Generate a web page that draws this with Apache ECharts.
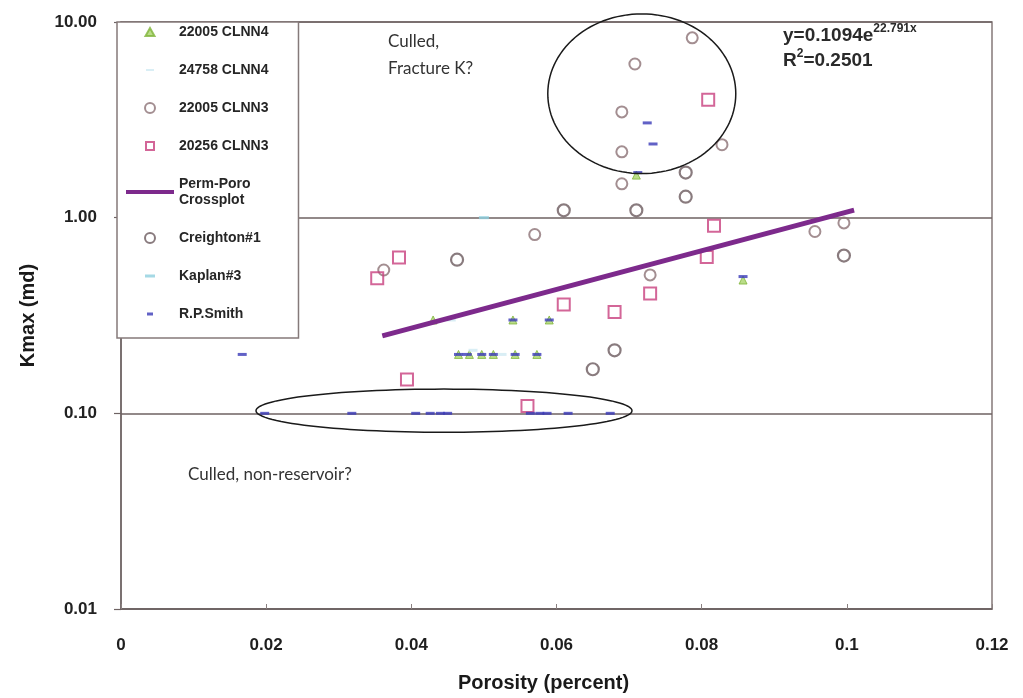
<!DOCTYPE html>
<html>
<head>
<meta charset="utf-8">
<script src="https://cdn.jsdelivr.net/npm/echarts@6/dist/echarts.min.js"></script>
<style>
  html, body { margin: 0; padding: 0; background: #ffffff; }
  #chart { width: 1023px; height: 698px; }
</style>
</head>
<body>
<div id="chart"></div>
<script>
// Porosity (fraction) vs. Kmax (md) for several wells
const xTicks = [0, 0.02, 0.04, 0.06, 0.08, 0.1, 0.12];
const yTickLabels = { 0.01: '0.01', 0.1: '0.10', 1: '1.00', 10: '10.00' };

const clnn4_22005 = [
  [0.043, 0.3], [0.054, 0.3], [0.059, 0.3],
  [0.0465, 0.2], [0.048, 0.2], [0.0497, 0.2], [0.0513, 0.2], [0.0543, 0.2], [0.0573, 0.2],
  [0.071, 1.65], [0.0857, 0.48]
];
const clnn4_24758 = [
  [0.0455, 0.3], [0.0525, 0.2], [0.0485, 0.21]
];
const clnn3_22005 = [
  [0.0787, 8.3], [0.0708, 6.1], [0.069, 3.47], [0.069, 2.17], [0.0828, 2.36],
  [0.069, 1.49], [0.057, 0.82], [0.0362, 0.54], [0.0729, 0.51], [0.0956, 0.85], [0.0996, 0.94]
];
const clnn3_20256 = [
  [0.0809, 4.0], [0.0817, 0.91], [0.0807, 0.63], [0.0729, 0.41], [0.068, 0.33],
  [0.061, 0.36], [0.0353, 0.49], [0.0383, 0.625], [0.0394, 0.149], [0.056, 0.109]
];
// exponential fit y = 0.1094 e^(22.791x), straight on the log axis
const permPoroFit = [[0.036, 0.249], [0.101, 1.093]];
const creighton1 = [
  [0.0463, 0.61], [0.061, 1.09], [0.068, 0.21], [0.071, 1.09], [0.0778, 1.7],
  [0.0778, 1.28], [0.0996, 0.64], [0.065, 0.168]
];
const kaplan3 = [[0.05, 1.0]];
const rpSmith = [
  [0.0198, 0.1], [0.0318, 0.1], [0.0406, 0.1], [0.0426, 0.1], [0.044, 0.1], [0.045, 0.1],
  [0.0564, 0.1], [0.0577, 0.1], [0.0587, 0.1], [0.0616, 0.1], [0.0674, 0.1],
  [0.0167, 0.2], [0.0465, 0.2], [0.0477, 0.2], [0.0497, 0.2], [0.0513, 0.2], [0.0543, 0.2], [0.0573, 0.2],
  [0.054, 0.3], [0.059, 0.3],
  [0.0725, 3.05], [0.0733, 2.38], [0.0712, 1.7], [0.0857, 0.5]
];

// Culled groups outlined on the plot (data-space bounding boxes)
const fractureGroup = { x0: 0.0588, x1: 0.0847, yLow: 1.68, yHigh: 11.0 };
const nonReservoirGroup = { x0: 0.0186, x1: 0.0704, yLow: 0.08, yHigh: 0.133 };

const chart = echarts.init(document.getElementById('chart'), null, { renderer: 'canvas' });

const boldNarrow = '"Liberation Sans Narrow", "Liberation Sans", Arial, sans-serif';
const boldSans = '"Liberation Sans", Arial, sans-serif';
const circleColor = '#8c7276';
const darkCircleColor = '#6c5a5e';

// legend glyphs: the leading moves fix each icon's box so it is drawn small and centred
const iconTriangle = 'path://M0,0 M48,10 M19.5,9 L24,1 L28.5,9 Z';
const iconSquare = 'path://M0,0 M48,10 M20,1 H28 V9 H20 Z';
const iconFaintDash = 'path://M0,0 M48,10 M20,4 H28 V6 H20 Z';
const iconCyanDash = 'path://M0,0 M48,10 M19,3.5 H29 V6.5 H19 Z';
const iconBlueDash = 'path://M0,0 M48,10 M21,3.5 H27 V6.5 H21 Z';
const iconLine = 'path://M0,0 M48,10 M0,3 H48 V7 H0 Z';

chart.setOption({
  animation: false,
  backgroundColor: '#ffffff',
  grid: {
    left: 121, right: 31, top: 22, bottom: 86,
    show: true, borderColor: '#857a7a', borderWidth: 1.5, backgroundColor: 'transparent'
  },
  legend: {
    orient: 'vertical',
    left: 117, top: 22,
    padding: [2, 30, 16, 8],
    itemGap: 22,
    itemWidth: 48, itemHeight: 10,
    symbolKeepAspect: true,
    backgroundColor: '#ffffff',
    borderColor: '#857a7a', borderWidth: 1.5, borderRadius: 0,
    textStyle: { fontFamily: boldSans, fontWeight: 'bold', fontSize: 14, color: '#262626', lineHeight: 16 },
    formatter: function (name) { return name === 'Perm-Poro Crossplot' ? 'Perm-Poro\nCrossplot' : name; },
    data: [
      { name: '22005 CLNN4', icon: iconTriangle },
      { name: '24758 CLNN4', icon: iconFaintDash },
      { name: '22005 CLNN3', icon: 'circle' },
      { name: '20256 CLNN3', icon: iconSquare },
      { name: 'Perm-Poro Crossplot', icon: iconLine },
      { name: 'Creighton#1', icon: 'circle' },
      { name: 'Kaplan#3', icon: iconCyanDash },
      { name: 'R.P.Smith', icon: iconBlueDash }
    ]
  },
  xAxis: {
    type: 'value', min: 0, max: 0.12, interval: 0.02,
    name: 'Porosity (percent)', nameLocation: 'middle', nameGap: 64,
    nameTextStyle: { fontFamily: boldNarrow, fontWeight: 'bold', fontSize: 20, color: '#1a1a1a', padding: [0, 26, 0, 0] },
    axisLine: { show: true, lineStyle: { color: '#6e6363', width: 1.5 } },
    axisTick: { show: true, inside: true, length: 5, lineStyle: { color: '#8a8080' } },
    axisLabel: {
      margin: 28, fontFamily: boldNarrow, fontWeight: 'bold', fontSize: 17, color: '#1e1e1e',
      formatter: function (v) { return String(+v.toFixed(2)); }
    },
    splitLine: { show: false }
  },
  yAxis: {
    type: 'log', logBase: 10, min: 0.01, max: 10,
    name: 'Kmax (md)', nameLocation: 'middle', nameGap: 83,
    nameTextStyle: { fontFamily: boldNarrow, fontWeight: 'bold', fontSize: 20, color: '#1a1a1a' },
    axisLine: { show: true, lineStyle: { color: '#6e6363', width: 1.5 } },
    axisTick: { show: true, length: 7, lineStyle: { color: '#6e6363', width: 1.2 } },
    axisLabel: {
      margin: 24, fontFamily: boldSans, fontWeight: 'bold', fontSize: 17, color: '#222',
      formatter: function (v) {
        const k = Object.keys(yTickLabels).find(function (t) { return Math.abs(+t - v) / v < 1e-6; });
        return k !== undefined ? yTickLabels[k] : '';
      }
    },
    splitLine: { show: true, lineStyle: { color: '#6e6262', width: 1.5 } }
  },
  series: [
    {
      name: '22005 CLNN4', type: 'scatter', data: clnn4_22005, symbol: 'triangle', symbolSize: 8,
      itemStyle: { color: '#a9d46a', borderColor: '#7fb43a', borderWidth: 1 }
    },
    {
      name: '24758 CLNN4', type: 'scatter', data: clnn4_24758, symbol: 'rect', symbolSize: [9, 3],
      itemStyle: { color: '#cfeaf2' }
    },
    {
      name: '22005 CLNN3', type: 'scatter', data: clnn3_22005, symbol: 'circle', symbolSize: 11,
      itemStyle: { color: 'rgba(255,255,255,0)', borderColor: circleColor, borderWidth: 2 }
    },
    {
      name: '20256 CLNN3', type: 'scatter', data: clnn3_20256, symbol: 'rect', symbolSize: 12,
      itemStyle: { color: 'rgba(255,255,255,0)', borderColor: '#c8407e', borderWidth: 2 }
    },
    {
      name: 'Perm-Poro Crossplot', type: 'line', data: permPoroFit, symbol: 'none',
      lineStyle: { color: '#7d2a8c', width: 5 }, itemStyle: { color: '#7d2a8c' }, z: 3
    },
    {
      name: 'Creighton#1', type: 'scatter', data: creighton1, symbol: 'circle', symbolSize: 12,
      itemStyle: { color: 'rgba(255,255,255,0)', borderColor: darkCircleColor, borderWidth: 2.2 }
    },
    {
      name: 'Kaplan#3', type: 'scatter', data: kaplan3, symbol: 'rect', symbolSize: [10, 3],
      itemStyle: { color: '#8fd0de' }
    },
    {
      name: 'R.P.Smith', type: 'scatter', data: rpSmith, symbol: 'rect', symbolSize: [9, 3],
      itemStyle: { color: '#3a3ab8' }, z: 4
    }
  ]
});

// outline of a culled group, as an ellipse inscribed in its pixel bounding box
function ellipsePoints(box) {
  const a = chart.convertToPixel({ gridIndex: 0 }, [box.x0, box.yHigh]);
  const b = chart.convertToPixel({ gridIndex: 0 }, [box.x1, box.yLow]);
  const cx = (a[0] + b[0]) / 2, cy = (a[1] + b[1]) / 2;
  const rx = Math.abs(b[0] - a[0]) / 2, ry = Math.abs(b[1] - a[1]) / 2;
  const pts = [];
  for (let i = 0; i < 120; i++) {
    const t = (i / 120) * Math.PI * 2;
    pts.push([cx + rx * Math.cos(t), cy + ry * Math.sin(t)]);
  }
  return pts;
}

const noteFont = 'Lato, "Open Sans", sans-serif';
chart.setOption({
  graphic: [
    {
      type: 'polygon', shape: { points: ellipsePoints(fractureGroup) }, silent: true, z: 10,
      style: { fill: 'none', stroke: '#1a1a1a', lineWidth: 1.5 }
    },
    {
      type: 'polygon', shape: { points: ellipsePoints(nonReservoirGroup) }, silent: true, z: 10,
      style: { fill: 'none', stroke: '#1a1a1a', lineWidth: 1.5 }
    },
    {
      type: 'text', left: 388, top: 28, z: 10,
      style: { text: 'Culled,\nFracture K?', font: '17px ' + noteFont, fill: '#333', lineHeight: 27 }
    },
    {
      type: 'text', left: 188, top: 466, z: 10,
      style: { text: 'Culled, non-reservoir?', font: '17px ' + noteFont, fill: '#333' }
    },
    {
      type: 'text', left: 783, top: 23, z: 10,
      style: {
        text: '{b|y=0.1094e}{s|22.791x}\n{b|R}{s|2}{b|=0.2501}',
        lineHeight: 25,
        rich: {
          b: { fontFamily: boldSans, fontWeight: 'bold', fontSize: 19, fill: '#2a2a2a', lineHeight: 25 },
          s: { fontFamily: boldSans, fontWeight: 'bold', fontSize: 12, fill: '#2a2a2a', verticalAlign: 'top', lineHeight: 25, padding: [0, 0, 9, 0] }
        }
      }
    }
  ]
});
</script>
</body>
</html>
